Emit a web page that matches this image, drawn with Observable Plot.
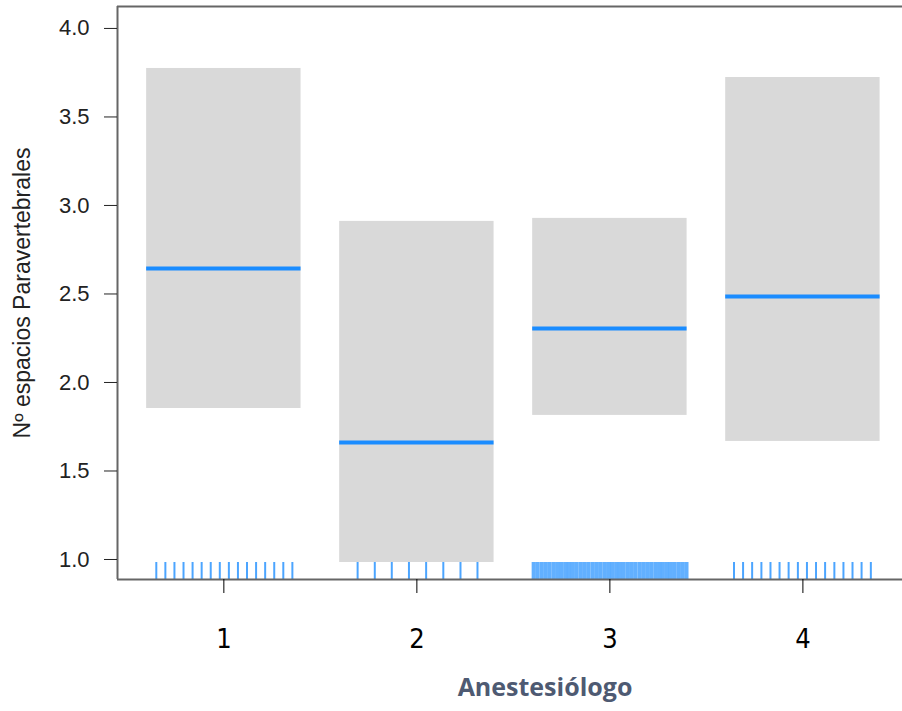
<!DOCTYPE html>
<html>
<head>
<meta charset="utf-8">
<script src="https://cdn.jsdelivr.net/npm/d3@7"></script>
<script src="https://cdn.jsdelivr.net/npm/@observablehq/plot@0.6"></script>
<style>
  html, body { margin: 0; padding: 0; background: white; }
</style>
</head>
<body>
<div id="chart"></div>
<script>
// ---- data ----
const groups = [1, 2, 3, 4];
const fitValues = [2.644, 1.661, 2.305, 2.486];
const lowerValues = [1.853, 0.983, 1.814, 1.667];
const upperValues = [3.774, 2.910, 2.927, 3.723];
const yTicks = [1.0, 1.5, 2.0, 2.5, 3.0, 3.5, 4.0];
const xTickLabels = ["1", "2", "3", "4"];
const yTitle = "Nº espacios Paravertebrales";
const xTitle = "Anestesiólogo";
// rug positions (jittered group positions)
const rug1 = [0.650, 0.697, 0.744, 0.791, 0.838, 0.885, 0.932, 0.979, 1.026, 1.073, 1.120, 1.167, 1.214, 1.261, 1.308, 1.355];
const rug2 = [1.693, 1.782, 1.870, 1.959, 2.048, 2.137, 2.226, 2.314];
const rug3 = [2.605, 2.625, 2.646, 2.666, 2.686, 2.707, 2.727, 2.747, 2.768, 2.788, 2.808, 2.828, 2.849, 2.869, 2.889, 2.910, 2.930, 2.950, 2.971, 2.991, 3.011, 3.032, 3.052, 3.072, 3.093, 3.113, 3.133, 3.154, 3.174, 3.194, 3.214, 3.235, 3.255, 3.275, 3.296, 3.316, 3.336, 3.357, 3.377, 3.397];
const rug4 = [3.643, 3.690, 3.737, 3.785, 3.832, 3.879, 3.926, 3.974, 4.021, 4.068, 4.115, 4.163, 4.210, 4.257, 4.304, 4.352];

const table = groups.map((g, i) => ({g, fit: fitValues[i], lo: lowerValues[i], hi: upperValues[i]}));
const xDomain = [0.449, 4.516];
const yDomain = [0.887, 4.124];
const half = 0.4;

const chart = Plot.plot({
  width: 902,
  height: 711,
  marginLeft: 117,
  marginRight: 0,
  marginTop: 6,
  marginBottom: 132,
  style: {background: "white", fontFamily: "Liberation Sans, Arial, sans-serif"},
  x: {domain: xDomain},
  y: {domain: yDomain},
  marks: [
    Plot.rect(table, {x1: d => d.g - half, x2: d => d.g + half, y1: "lo", y2: "hi", fill: "#d9d9d9"}),
    Plot.ruleY(table, {x1: d => d.g - half, x2: d => d.g + half, y: "fit", stroke: "#1a8cff", strokeWidth: 4}),
    Plot.ruleX([...rug1, ...rug2, ...rug4], {x: d => d, insetTop: 556, stroke: "#1f8fff", strokeOpacity: 0.8, strokeWidth: 2}),
    Plot.ruleX(rug3, {x: d => d, insetTop: 556, stroke: "#1f8fff", strokeOpacity: 0.7, strokeWidth: 4}),
    Plot.ruleX([xDomain[0]], {stroke: "#666", strokeWidth: 2}),
    Plot.ruleY([yDomain[0], yDomain[1]], {stroke: "#666", strokeWidth: 2}),
    Plot.axisY({
      ticks: yTicks, tickFormat: d3.format(".1f"), tickSize: 13, tickPadding: 15,
      fontSize: 22, color: "#222", label: null
    }),
    Plot.text([yTitle], {
      frameAnchor: "left", rotate: -90, dx: -95, text: d => d, textAnchor: "middle",
      fontSize: 23, fill: "#222"
    }),
    Plot.axisX({
      ticks: groups, tickFormat: (d, i) => xTickLabels[i], tickSize: 14, tickPadding: 35,
      fontSize: 27, fontFamily: "DejaVu Sans Condensed, sans-serif", color: "#000", label: null
    }),
    Plot.text([xTitle], {
      frameAnchor: "bottom", dy: 116, dx: 35, text: d => d,
      fontSize: 25, fontWeight: "bold", fill: "#4e5a72", fontFamily: "Open Sans, sans-serif"
    })
  ]
});
document.getElementById("chart").appendChild(chart);
</script>
</body>
</html>
